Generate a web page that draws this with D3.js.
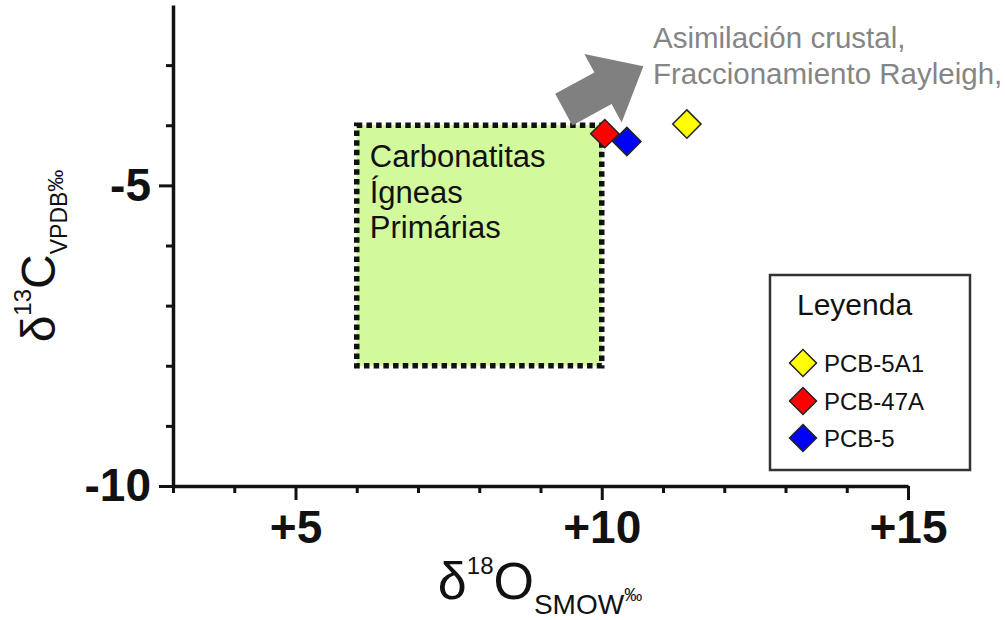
<!DOCTYPE html>
<html><head><meta charset="utf-8">
<script src="https://cdn.jsdelivr.net/npm/d3@7"></script>
<style>
body{margin:0;background:#fff;}
svg{display:block;font-family:"Liberation Sans",Arial,Helvetica,sans-serif;}
</style>
</head><body>
<svg id="chart" width="1005" height="620"></svg>
<script>
// ---- data ----
const samples = ["PCB-5A1", "PCB-47A", "PCB-5"];
const d18O = [11.39, 10.05, 10.41];
const d13C = [-3.98, -4.14, -4.27];
const sampleColors = ["#ffff00", "#ff0000", "#0000ff"];
const xMajorTicks = [5, 10, 15];
const xTickLabels = ["+5", "+10", "+15"];
const yMajorTicks = [-5, -10];
const yTickLabels = ["-5", "-10"];
const xMinorTicks = [3, 4, 6, 7, 8, 9, 11, 12, 13, 14];
const yMinorTicks = [-9, -8, -7, -6, -4, -3];
const fieldO = [6, 10];
const fieldC = [-8, -4];
const fieldLabel = ["Carbonatitas", "Ígneas", "Primárias"];
const trendLabel = ["Asimilación crustal,", "Fraccionamiento Rayleigh,"];
const arrowFrom = [9.38, -3.74];
const arrowTo = [10.68, -3.02];
const legendTitle = "Leyenda";

// ---- setup ----
const svg = d3.select("#chart");
const x = d3.scaleLinear().domain([3, 15]).range([173, 908]);
const y = d3.scaleLinear().domain([-10, -2]).range([486, 5]);

// field rectangle
svg.append("rect")
  .attr("x", x(fieldO[0])).attr("y", y(fieldC[1]))
  .attr("width", x(fieldO[1]) - x(fieldO[0]))
  .attr("height", y(fieldC[0]) - y(fieldC[1]))
  .attr("fill", "#d2f99b")
  .attr("stroke", "#111")
  .attr("stroke-width", 5.5)
  .attr("stroke-dasharray", "5.5,4.2");

svg.append("text")
  .attr("font-size", 31).attr("fill", "#111")
  .selectAll("tspan").data(fieldLabel).join("tspan")
  .attr("x", x(fieldO[0]) + 13)
  .attr("y", (d, i) => y(fieldC[1]) + 42 + i * 35.5)
  .text(d => d);

// arrow
(function () {
  const x0 = x(arrowFrom[0]), y0 = y(arrowFrom[1]);
  const x1 = x(arrowTo[0]), y1 = y(arrowTo[1]);
  const dx = x1 - x0, dy = y1 - y0, L = Math.hypot(dx, dy);
  const ux = dx / L, uy = dy / L, px = -uy, py = ux;
  const sw = 18, hw = 39, hl = 46;
  const bx = x1 - ux * hl, by = y1 - uy * hl;
  const pts = [
    [x0 + px * sw, y0 + py * sw],
    [bx + px * sw, by + py * sw],
    [bx + px * hw, by + py * hw],
    [x1, y1],
    [bx - px * hw, by - py * hw],
    [bx - px * sw, by - py * sw],
    [x0 - px * sw, y0 - py * sw]
  ];
  svg.append("path").attr("d", d3.line()(pts) + "Z").attr("fill", "#808080");
})();

svg.append("text")
  .attr("font-size", 29.5).attr("fill", "#858585")
  .selectAll("tspan").data(trendLabel).join("tspan")
  .attr("x", 653)
  .attr("y", (d, i) => 48 + i * 36)
  .text(d => d);

// points
const sym = d3.symbol().type(d3.symbolSquare).size(400);
svg.append("g").selectAll("path").data(samples).join("path")
  .attr("d", sym)
  .attr("transform", (d, i) => `translate(${x(d18O[i])},${y(d13C[i])}) rotate(45)`)
  .attr("fill", (d, i) => sampleColors[i])
  .attr("stroke", "#222").attr("stroke-width", 1.5);

// legend
const lg = svg.append("g");
lg.append("rect").attr("x", 770).attr("y", 275).attr("width", 200).attr("height", 195)
  .attr("fill", "#fff").attr("stroke", "#333").attr("stroke-width", 2.5);
lg.append("text").attr("x", 797).attr("y", 315).attr("font-size", 30).attr("fill", "#111").text(legendTitle);
const lsym = d3.symbol().type(d3.symbolSquare).size(364);
const rowY = [363, 401, 438];
lg.selectAll("path.item").data(samples).join("path").attr("class", "item")
  .attr("d", lsym)
  .attr("transform", (d, i) => `translate(803,${rowY[i]}) rotate(45)`)
  .attr("fill", (d, i) => sampleColors[i])
  .attr("stroke", "#222").attr("stroke-width", 1.5);
lg.selectAll("text.item").data(samples).join("text").attr("class", "item")
  .attr("x", 824).attr("y", (d, i) => rowY[i] + 9)
  .attr("font-size", 24).attr("fill", "#111").text(d => d);

// axes
function styleAxis(g) {
  g.select(".domain").attr("stroke", "#111").attr("stroke-width", 3.5);
  g.selectAll(".tick line").attr("stroke", "#111").attr("stroke-width", 3);
  g.selectAll(".tick text").attr("fill", "#111").attr("font-size", 46).attr("font-weight", "bold")
    .attr("font-family", "'Liberation Sans',Arial,sans-serif");
}
svg.append("g").attr("transform", "translate(0,486)")
  .call(d3.axisBottom(x).tickValues(xMinorTicks).tickSize(7).tickSizeOuter(0).tickFormat(""))
  .call(g => { g.select(".domain").remove(); g.selectAll(".tick line").attr("stroke", "#111").attr("stroke-width", 3); });
svg.append("g").attr("transform", "translate(0,486)")
  .call(d3.axisBottom(x).tickValues(xMajorTicks).tickSize(14).tickSizeOuter(0).tickPadding(10)
    .tickFormat((d, i) => xTickLabels[i]))
  .call(styleAxis);
svg.append("g").attr("transform", "translate(173,0)")
  .call(d3.axisLeft(y).tickValues(yMinorTicks).tickSize(7).tickSizeOuter(0).tickFormat(""))
  .call(g => { g.select(".domain").remove(); g.selectAll(".tick line").attr("stroke", "#111").attr("stroke-width", 3); });
svg.append("g").attr("transform", "translate(173,0)")
  .call(d3.axisLeft(y).tickValues(yMajorTicks).tickSize(14).tickSizeOuter(0).tickPadding(8)
    .tickFormat((d, i) => yTickLabels[i]))
  .call(styleAxis);

// axis titles
const xt = svg.append("text").attr("x", 540).attr("y", 599).attr("text-anchor", "middle").attr("fill", "#111");
xt.append("tspan").attr("font-size", 52).text("δ");
xt.append("tspan").attr("font-size", 24).attr("dy", -25).text("18");
xt.append("tspan").attr("font-size", 52).attr("dy", 25).text("O");
xt.append("tspan").attr("font-size", 28).attr("dy", 15).text("SMOW");
xt.append("tspan").attr("font-size", 18).attr("dy", -13).text("‰");

const yt = svg.append("text").attr("transform", "translate(55,256) rotate(-90)")
  .attr("text-anchor", "middle").attr("fill", "#111");
yt.append("tspan").attr("font-size", 48).text("δ");
yt.append("tspan").attr("font-size", 24).attr("dy", -24).text("13");
yt.append("tspan").attr("font-size", 48).attr("dy", 24).text("C");
yt.append("tspan").attr("font-size", 23).attr("dy", 12).text("VPDB");
yt.append("tspan").attr("font-size", 22).attr("dy", -4).text("‰");
</script>
</body></html>
